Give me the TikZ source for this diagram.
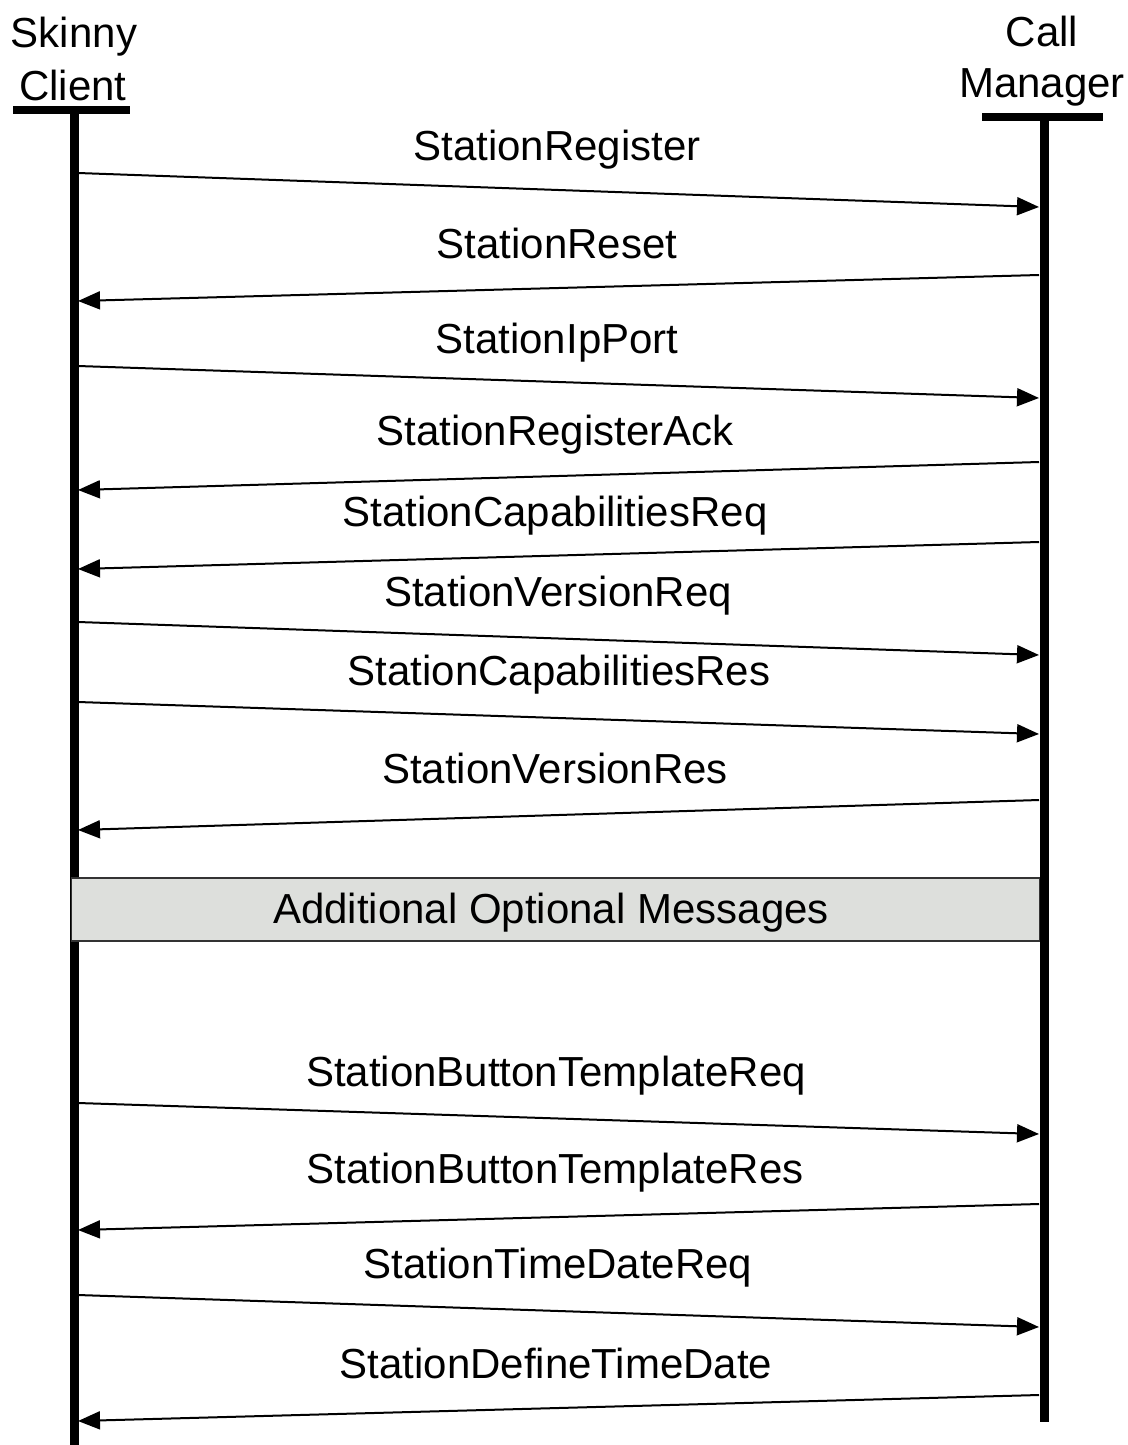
\documentclass[tikz,border=0pt]{standalone}
\usepackage{fontspec}
\setmainfont{Liberation Sans}
\usetikzlibrary{arrows.meta}
\definecolor{boxgray}{HTML}{DDDFDC}
\begin{document}
\begin{tikzpicture}[x=1pt,y=-1pt,
  lbl/.style={anchor=base,inner sep=0pt,font=\fontsize{42}{50}\selectfont},
  life/.style={line width=9pt},
  bar/.style={line width=8pt},
  msg/.style={line width=2pt,-{Triangle[length=22pt,width=18pt]}},
  optbox/.style={draw=black!80,line width=1.5pt,fill=boxgray,inner sep=0pt}]
\useasboundingbox (0,0) rectangle (1127,1445);
% headers
\node[lbl] (h1) at (74,48) {Skinny};
\node[lbl] (h2) at (73,100) {Client};
\node[lbl] (h3) at (1042,47) {Call};
\node[lbl] (h4) at (1042,97) {Manager};
% lifelines
\coordinate (LT) at (74,106);
\coordinate (LB) at (74,1445);
\coordinate (RT) at (1044,113);
\coordinate (RB) at (1044,1422);
\coordinate (LBa) at (13,110);
\coordinate (LBb) at (130,110);
\coordinate (RBa) at (982,117);
\coordinate (RBb) at (1103,117);
\draw[life] (LT) -- (LB);
\draw[life] (RT) -- (RB);
\draw[bar] (LBa) -- (LBb);
\draw[bar] (RBa) -- (RBb);
% messages: left/right end points
\foreach \i/\ly/\ry in {1/173/207,2/301/275,3/366/398,4/490/462,5/569/542,6/622/655,7/702/734,8/830/800,9/1103/1134,10/1230/1204,11/1295/1327,12/1421/1395}{
  \coordinate (L\i) at (78,\ly);
  \coordinate (R\i) at (1039,\ry);
}
\draw[msg] (L1) -- (R1);
\draw[msg] (R2) -- (L2);
\draw[msg] (L3) -- (R3);
\draw[msg] (R4) -- (L4);
\draw[msg] (R5) -- (L5);
\draw[msg] (L6) -- (R6);
\draw[msg] (L7) -- (R7);
\draw[msg] (R8) -- (L8);
\draw[msg] (L9) -- (R9);
\draw[msg] (R10) -- (L10);
\draw[msg] (L11) -- (R11);
\draw[msg] (R12) -- (L12);
% labels
\node[lbl] (m1) at (557,160) {StationRegister};
\node[lbl] (m2) at (557,258) {StationReset};
\node[lbl] (m3) at (557,353) {StationIpPort};
\node[lbl] (m4) at (555,445) {StationRegisterAck};
\node[lbl] (m5) at (555,526) {StationCapabilitiesReq};
\node[lbl] (m6) at (558,606) {StationVersionReq};
\node[lbl] (m7) at (559,685) {StationCapabilitiesRes};
\node[lbl] (m8) at (555,783) {StationVersionRes};
\node[lbl] (m9) at (556,1086) {StationButtonTemplateReq};
\node[lbl] (m10) at (555,1183) {StationButtonTemplateRes};
\node[lbl] (m11) at (558,1278) {StationTimeDateReq};
\node[lbl] (m12) at (556,1378) {StationDefineTimeDate};
% optional box
\node[optbox,minimum width=968pt,minimum height=63pt] (opt) at (555.5,909.5) {};
\node[lbl] (optl) at (551,923) {Additional Optional Messages};
\end{tikzpicture}
\end{document}
